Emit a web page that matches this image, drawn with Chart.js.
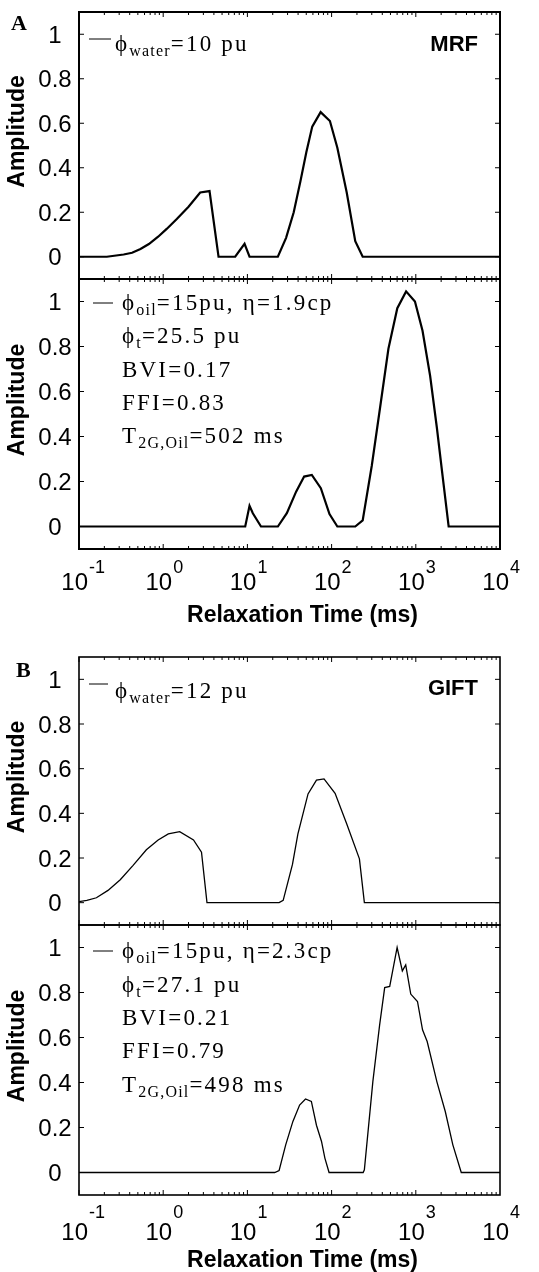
<!DOCTYPE html>
<html>
<head>
<meta charset="utf-8">
<script src="https://cdn.jsdelivr.net/npm/chart.js@4/dist/chart.umd.min.js"></script>
<style>
  body { margin: 0; background: #fff; }
  #wrap { position: relative; width: 539px; height: 1272px; }
  #wrap canvas { position: absolute; left: 0; top: 0; }
</style>
</head>
<body>
<div id="wrap">
  <canvas id="mrfWater" width="539" height="1272"></canvas>
  <canvas id="mrfOil" width="539" height="1272"></canvas>
  <canvas id="giftWater" width="539" height="1272"></canvas>
  <canvas id="giftOil" width="539" height="1272"></canvas>
</div>
<script>
// relaxation time (ms) and amplitude
const mrfWaterT   = [0.1, 0.214, 0.339, 0.427, 0.537, 0.676, 0.871, 1.10, 1.45, 2.0, 2.75, 3.55, 4.54, 7.16, 9.25, 10.6, 23.0, 28.8, 35.5, 42.7, 50.1, 58.9, 74.1, 95.5, 117, 151, 191, 234, 10000];
const mrfWaterAmp = [0, 0, 0.01, 0.018, 0.035, 0.057, 0.09, 0.125, 0.17, 0.225, 0.289, 0.295, 0, 0, 0.058, 0, 0, 0.085, 0.2, 0.34, 0.47, 0.585, 0.65, 0.61, 0.49, 0.29, 0.07, 0, 0];

const mrfOilT   = [0.1, 9.42, 10.6, 11.6, 14.5, 23.0, 29.4, 37.9, 47.2, 58.2, 74.5, 94.4, 117, 191, 234, 300, 377, 473, 603, 767, 977, 1202, 1479, 1778, 2042, 2455, 10000];
const mrfOilAmp = [0, 0, 0.092, 0.059, 0, 0, 0.059, 0.155, 0.222, 0.229, 0.17, 0.055, 0, 0, 0.027, 0.27, 0.53, 0.79, 0.97, 1.045, 1.0, 0.87, 0.67, 0.44, 0.25, 0, 0];

const giftWaterT   = [0.1, 0.124, 0.161, 0.221, 0.309, 0.439, 0.631, 0.871, 1.15, 1.57, 2.29, 2.85, 3.31, 23.8, 26.6, 34.3, 39.8, 52.5, 66.1, 81.3, 110, 151, 214, 245, 10000];
const giftWaterAmp = [0.005, 0.01, 0.022, 0.055, 0.103, 0.167, 0.237, 0.281, 0.308, 0.318, 0.281, 0.226, 0, 0, 0.01, 0.171, 0.308, 0.487, 0.549, 0.554, 0.49, 0.353, 0.196, 0, 0];

const giftOilT   = [0.1, 21.1, 23.8, 28.5, 34.7, 41.7, 49.0, 57.5, 66.1, 75.9, 83.2, 93.3, 237, 245, 309, 372, 427, 490, 600, 692, 759, 871, 1047, 1202, 1365, 1778, 2239, 2754, 3467, 10000];
const giftOilAmp = [0, 0, 0.009, 0.123, 0.227, 0.30, 0.327, 0.316, 0.21, 0.138, 0.064, 0, 0, 0.012, 0.404, 0.656, 0.822, 0.827, 1.0, 0.896, 0.923, 0.793, 0.76, 0.634, 0.582, 0.404, 0.271, 0.123, 0, 0];

const decadeTicks = [0.1, 1, 10, 100, 1000, 10000];
const decadeExps = ['-1', '0', '1', '2', '3', '4'];
const ampTicks = [0, 0.2, 0.4, 0.6, 0.8, 1];
const ampTickLabels = ['0', '0.2', '0.4', '0.6', '0.8', '1'];

const SANS = '"Liberation Sans", Arial, sans-serif';
const SERIF = '"Liberation Serif", "Times New Roman", serif';

// draw text with subscripts, parts = [[text, isSub], ...]
function richText(ctx, x, y, parts, size) {
  ctx.textAlign = 'left';
  ctx.textBaseline = 'alphabetic';
  for (const [t, sub] of parts) {
    const s = sub ? Math.round(size * 0.68) : size;
    ctx.letterSpacing = sub ? '1.2px' : '2.2px';
    ctx.font = s + 'px ' + SERIF;
    ctx.fillText(t, x, sub ? y + 5 : y);
    x += ctx.measureText(t).width;
  }
  ctx.letterSpacing = '0px';
}

function decoPlugin(p) {
  return {
    id: 'deco',
    afterDraw(chart) {
      const ctx = chart.ctx;
      const a = chart.chartArea;
      const xs = chart.scales.x, ys = chart.scales.y;
      ctx.save();
      ctx.strokeStyle = '#000';
      ctx.fillStyle = '#000';

      // frame
      ctx.lineWidth = p.frameWidth;
      ctx.strokeRect(a.left, a.top, a.right - a.left, a.bottom - a.top);

      // inward ticks
      ctx.lineWidth = 1;
      ctx.beginPath();
      for (let d = -1; d <= 3; d++) {
        for (let k = 1; k <= 9; k++) {
          const px = xs.getPixelForValue(k * Math.pow(10, d));
          const len = k === 1 ? 5 : 3;
          ctx.moveTo(px, a.bottom); ctx.lineTo(px, a.bottom - len);
          ctx.moveTo(px, a.top); ctx.lineTo(px, a.top + len);
        }
      }
      ampTicks.forEach(v => {
        const py = ys.getPixelForValue(v);
        ctx.moveTo(a.left, py); ctx.lineTo(a.left + 5, py);
        ctx.moveTo(a.right, py); ctx.lineTo(a.right - 5, py);
      });
      ctx.stroke();

      // y tick labels
      ctx.font = '24px ' + SANS;
      ctx.textAlign = 'center';
      ctx.textBaseline = 'middle';
      ampTicks.forEach((v, i) => {
        ctx.fillText(ampTickLabels[i], 55, ys.getPixelForValue(v) + 2);
      });

      // y title
      ctx.save();
      ctx.translate(18, (a.top + a.bottom) / 2 - 14);
      ctx.rotate(-Math.PI / 2);
      ctx.font = 'bold 23px ' + SANS;
      ctx.fillText('Amplitude', 0, 0);
      ctx.restore();

      // x tick labels and title on the lower panels
      if (p.xLabels) {
        decadeTicks.forEach((v, i) => {
          const px = xs.getPixelForValue(v);
          ctx.font = '24px ' + SANS;
          ctx.textAlign = 'right';
          ctx.textBaseline = 'alphabetic';
          ctx.fillText('10', px + 9, p.labelBase);
          ctx.font = '18px ' + SANS;
          ctx.textAlign = 'left';
          ctx.fillText(decadeExps[i], px + 10, p.expBase);
        });
        ctx.font = 'bold 23px ' + SANS;
        ctx.textAlign = 'center';
        ctx.fillText('Relaxation Time (ms)', (a.left + a.right) / 2 + 13, p.titleBase);
      }

      // legend
      ctx.lineWidth = 1;
      ctx.beginPath();
      ctx.moveTo(p.legX1, p.legY); ctx.lineTo(p.legX2, p.legY);
      ctx.stroke();
      p.legend.forEach(row => richText(ctx, row.x, row.y, row.parts, 23));

      if (p.tag) {
        ctx.font = 'bold 22px ' + SANS;
        ctx.textAlign = 'right';
        ctx.textBaseline = 'alphabetic';
        ctx.fillText(p.tag, 478, p.tagBase);
      }
      if (p.letter) {
        ctx.font = 'bold 22px ' + SERIF;
        ctx.textAlign = 'left';
        ctx.fillText(p.letter, p.letterX, p.letterBase);
      }
      ctx.restore();
    }
  };
}

function makePanel(id, T, amp, p) {
  const pts = T.map((t, i) => ({ x: t, y: amp[i] }));
  return new Chart(document.getElementById(id), {
    type: 'line',
    data: {
      datasets: [{
        data: pts,
        borderColor: '#000',
        borderWidth: p.lineWidth,
        pointRadius: 0,
        tension: 0,
        fill: false
      }]
    },
    options: {
      responsive: false,
      animation: false,
      devicePixelRatio: 1,
      layout: { padding: { left: 79, right: 39, top: p.top, bottom: 1272 - p.bottom } },
      plugins: { legend: { display: false }, tooltip: { enabled: false } },
      scales: {
        x: { type: 'logarithmic', min: 0.1, max: 10000, display: false },
        y: { type: 'linear', min: -0.1, max: 1.1, display: false }
      }
    },
    plugins: [decoPlugin(p)]
  });
}

makePanel('mrfWater', mrfWaterT, mrfWaterAmp, {
  top: 12, bottom: 279, lineWidth: 2.2, frameWidth: 2,
  legX1: 89, legX2: 111, legY: 39,
  legend: [{ x: 115, y: 51, parts: [['ϕ', 0], ['water', 1], ['=10 pu', 0]] }],
  tag: 'MRF', tagBase: 51, letter: 'A', letterX: 11, letterBase: 30
});
makePanel('mrfOil', mrfOilT, mrfOilAmp, {
  top: 279, bottom: 549, lineWidth: 2.2, frameWidth: 2,
  xLabels: true, labelBase: 590, expBase: 573, titleBase: 622,
  legX1: 93, legX2: 113, legY: 303,
  legend: [
    { x: 122, y: 310, parts: [['ϕ', 0], ['oil', 1], ['=15pu, η=1.9cp', 0]] },
    { x: 122, y: 343, parts: [['ϕ', 0], ['t', 1], ['=25.5 pu', 0]] },
    { x: 122, y: 377, parts: [['BVI=0.17', 0]] },
    { x: 122, y: 410, parts: [['FFI=0.83', 0]] },
    { x: 122, y: 443, parts: [['T', 0], ['2G,Oil', 1], ['=502 ms', 0]] }
  ]
});
makePanel('giftWater', giftWaterT, giftWaterAmp, {
  top: 657, bottom: 925, lineWidth: 1.3, frameWidth: 1.6,
  legX1: 89, legX2: 108, legY: 684,
  legend: [{ x: 115, y: 698, parts: [['ϕ', 0], ['water', 1], ['=12 pu', 0]] }],
  tag: 'GIFT', tagBase: 695, letter: 'B', letterX: 16, letterBase: 677
});
makePanel('giftOil', giftOilT, giftOilAmp, {
  top: 925, bottom: 1195, lineWidth: 1.3, frameWidth: 1.6,
  xLabels: true, labelBase: 1240, expBase: 1218, titleBase: 1267,
  legX1: 93, legX2: 113, legY: 951,
  legend: [
    { x: 122, y: 958, parts: [['ϕ', 0], ['oil', 1], ['=15pu, η=2.3cp', 0]] },
    { x: 122, y: 992, parts: [['ϕ', 0], ['t', 1], ['=27.1 pu', 0]] },
    { x: 122, y: 1025, parts: [['BVI=0.21', 0]] },
    { x: 122, y: 1058, parts: [['FFI=0.79', 0]] },
    { x: 122, y: 1092, parts: [['T', 0], ['2G,Oil', 1], ['=498 ms', 0]] }
  ]
});
</script>
</body>
</html>
